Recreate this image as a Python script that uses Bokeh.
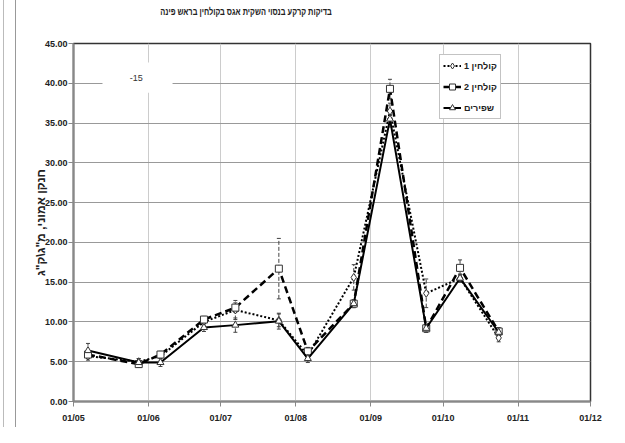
from datetime import datetime
from bokeh.plotting import figure
from bokeh.layouts import row, column
from bokeh.models import (ColumnDataSource, Whisker, TeeHead, FixedTicker, DatetimeTickFormatter,
                          NumeralTickFormatter, BoxAnnotation, Label, Range1d, Legend, LegendItem, Div)
from bokeh.embed import file_html
from bokeh.resources import INLINE

# ---- data ----
dates = ["2008-05-07", "2008-05-28", "2008-06-06", "2008-06-24", "2008-07-07", "2008-07-25",
         "2008-08-06", "2008-08-25", "2008-09-09", "2008-09-24", "2008-10-08", "2008-10-24"]
kulchin1 = [5.7, 5.0, 5.7, 10.0, 11.5, 10.2, 5.8, 15.6, 36.5, 13.6, 15.5, 8.0]
kulchin1_err = [0.5, 0.4, 0.6, 0.5, 1.2, 0.8, 0.5, 1.6, 1.0, 1.8, 0.5, 0.5]
kulchin2 = [5.9, 4.7, 5.9, 10.3, 11.8, 16.7, 6.3, 12.3, 39.3, 9.2, 16.8, 8.8]
kulchin2_err = [0.5, 0.4, 0.4, 0.4, 0.6, 3.8, 0.5, 0.5, 1.2, 0.5, 1.0, 0.5]
shpirim = [6.4, 4.9, 4.9, 9.3, 9.6, 10.1, 5.4, 12.3, 35.5, 9.2, 15.5, 8.7]
shpirim_err = [0.9, 0.5, 0.5, 0.5, 0.9, 1.0, 0.5, 0.5, 1.0, 0.5, 0.5, 0.5]
series_names = ["קולחין 1", "קולחין 2", "שפירים"]
month_ticks = ["2008-05-01", "2008-06-01", "2008-07-01", "2008-08-01",
               "2008-09-01", "2008-10-01", "2008-11-01", "2008-12-01"]
y_ticks = [0, 5, 10, 15, 20, 25, 30, 35, 40, 45]
title_text = "בדיקות קרקע בנסוי השקית אגס בקולחין בראש פינה"
y_label = 'חנקן אמוני, מ"ג\\ק"ג'
note_text = "-15"

FONT = "Liberation Sans"

xd = [datetime.fromisoformat(d) for d in dates]
tick_dt = [datetime.fromisoformat(d) for d in month_ticks]
tick_ms = [t.timestamp() * 1000 for t in tick_dt]

p = figure(width=593, height=397, x_axis_type="datetime", output_backend="svg",
           toolbar_location=None, min_border_left=57, min_border_right=19,
           min_border_top=13, min_border_bottom=26, margin=(0, 0, 0, 0), title=None,
           x_range=Range1d(tick_dt[0], tick_dt[-1]), y_range=Range1d(0, 45))

p.outline_line_color = "#333333"
p.outline_line_width = 1.5

p.xaxis.ticker = FixedTicker(ticks=tick_ms)
p.xaxis.formatter = DatetimeTickFormatter(days="%d/%m", months="%d/%m")
p.yaxis.ticker = FixedTicker(ticks=y_ticks)
p.yaxis.formatter = NumeralTickFormatter(format="0.00")

for ax in (p.xaxis, p.yaxis):
    ax.axis_line_color = "#888888"
    ax.axis_line_width = 2
    ax.major_tick_line_color = "#888888"
    ax.major_tick_out = 5
    ax.major_tick_in = 0
    ax.minor_tick_out = 0
    ax.minor_tick_in = 0
    ax.major_label_text_font = FONT
    ax.major_label_text_font_size = "9px"
    ax.major_label_text_font_style = "bold"
    ax.major_label_text_color = "#222222"
p.xaxis.major_label_standoff = 6
p.yaxis.major_label_standoff = 1

p.yaxis.axis_label = y_label
p.yaxis.axis_label_text_font = FONT
p.yaxis.axis_label_text_font_size = "12px"
p.yaxis.axis_label_text_font_style = "bold"
p.yaxis.axis_label_standoff = -6
p.yaxis.axis_label_text_color = "#222222"

p.xgrid.grid_line_color = "#cccccc"
p.ygrid.grid_line_color = "#999999"
p.xgrid.ticker = FixedTicker(ticks=tick_ms)
p.ygrid.ticker = FixedTicker(ticks=y_ticks)

# white text box with "-15"
p.add_layout(BoxAnnotation(left=datetime(2008, 5, 13), right=datetime(2008, 6, 11),
                           bottom=38.8, top=42.6, fill_color="white", fill_alpha=1,
                           line_color=None))
p.add_layout(Label(x=datetime(2008, 5, 27), y=40.7, text=note_text, text_font=FONT,
                   text_font_size="9px", text_align="center", text_baseline="middle",
                   text_color="#333333"))

styles = [
    dict(vals=kulchin1, err=kulchin1_err, dash="2 2", width=2, marker="diamond", size=8),
    dict(vals=kulchin2, err=kulchin2_err, dash="7 4", width=2.5, marker="square", size=7),
    dict(vals=shpirim, err=shpirim_err, dash="solid", width=2, marker="triangle", size=7),
]

items = []
for name, st in zip(series_names, styles):
    lo = [v - e for v, e in zip(st["vals"], st["err"])]
    hi = [v + e for v, e in zip(st["vals"], st["err"])]
    src = ColumnDataSource(dict(x=xd, y=st["vals"], lo=lo, hi=hi))
    w = Whisker(base="x", lower="lo", upper="hi", source=src, line_color="#444444",
                line_width=1, line_dash="4 2",
                upper_head=TeeHead(size=4, line_color="#444444"),
                lower_head=TeeHead(size=4, line_color="#444444"))
    p.add_layout(w)
    r1 = p.line("x", "y", source=src, line_color="black", line_width=st["width"],
                line_dash=st["dash"])
    r2 = p.scatter("x", "y", source=src, marker=st["marker"], size=st["size"],
                   line_color="#333333", fill_color="white", line_width=1)
    items.append(LegendItem(label=name, renderers=[r1, r2]))

legend = Legend(items=items, location=(366, 282))
legend.label_text_font = FONT
legend.label_text_font_size = "9px"
legend.label_text_font_style = "bold"
legend.label_text_color = "#222222"
legend.glyph_width = 18
legend.glyph_height = 15
legend.label_height = 15
legend.spacing = 6
legend.padding = 3
legend.margin = 0
legend.label_standoff = 3
legend.border_line_color = "#888888"
legend.border_line_width = 1
legend.background_fill_color = "white"
legend.background_fill_alpha = 1
p.add_layout(legend, "center")

# chart title above the plot
title_html = ('<div style="position:relative;width:593px;height:30px;">'
              '<div style="position:absolute;left:230px;top:12px;'
              'transform:translate(-50%,-50%) scaleX(0.74);'
              'white-space:nowrap;font-family:\'Liberation Sans\',Arial,sans-serif;'
              'font-size:10px;font-weight:bold;color:#222222;">' + title_text + '</div></div>')
title_div = Div(text=title_html, width=593, height=30, margin=(0, 0, 0, 0))

# strip on the left with the outer frame lines of the original sheet
frame_html = ('<div style="position:relative;width:16px;height:427px;">'
              '<div style="position:absolute;left:3px;top:0;width:1px;height:427px;background:#bbbbbb"></div>'
              '<div style="position:absolute;left:15px;top:0;width:1px;height:427px;background:#999999"></div>'
              '</div>')
strip = Div(text=frame_html, width=16, height=427, margin=(0, 0, 0, 0))

layout = row(strip, column(title_div, p, spacing=0), spacing=0)
open("out.html", "w").write(file_html(layout, INLINE))
